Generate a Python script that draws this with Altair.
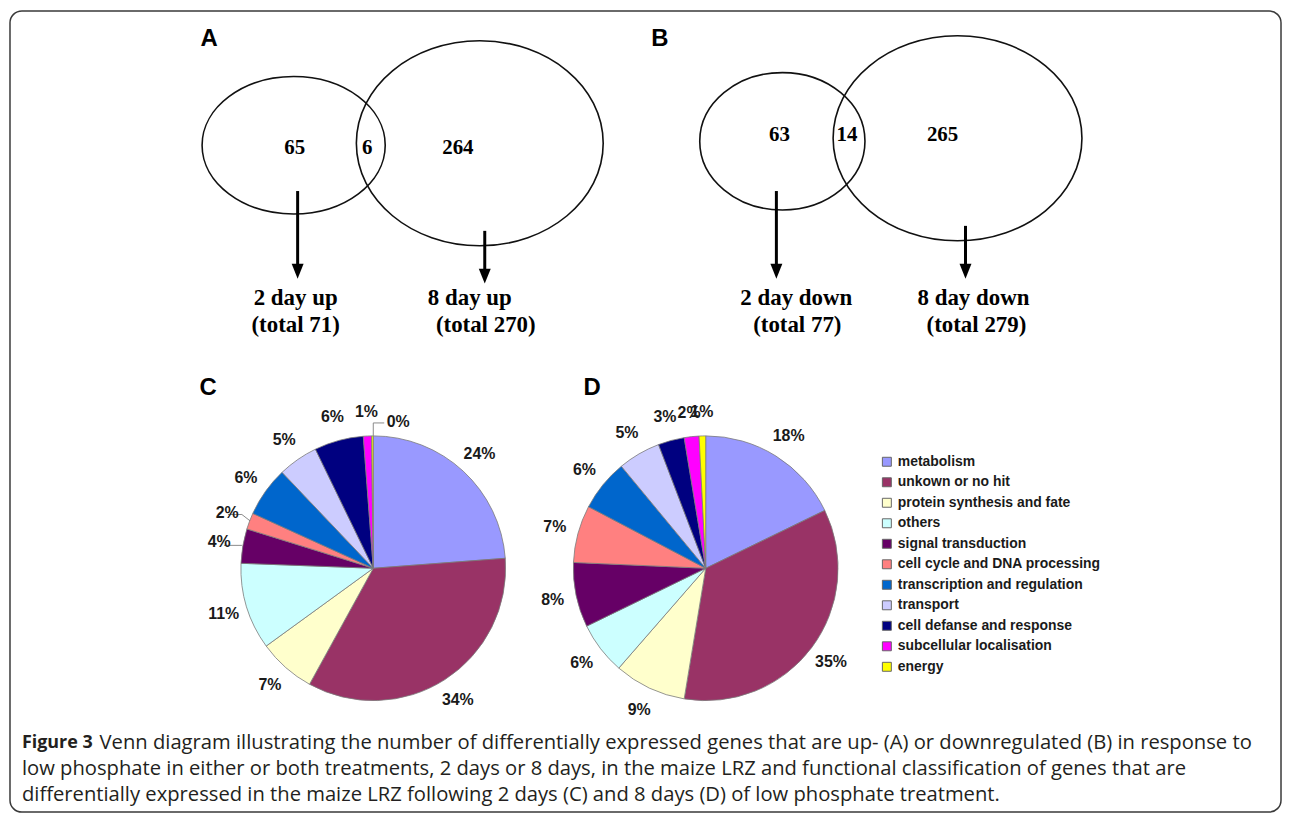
import altair as alt
import pandas as pd

# ---------------- data ----------------
categories = ["metabolism", "unkown or no hit", "protein synthesis and fate", "others",
              "signal transduction", "cell cycle and DNA processing",
              "transcription and regulation", "transport", "cell defanse and response",
              "subcellular localisation", "energy"]
colors = ["#9999FF", "#993366", "#FFFFCC", "#CCFFFF", "#660066", "#FF8080",
          "#0066CC", "#CCCCFF", "#000080", "#FF00FF", "#FFFF00"]
share_c = [23.8, 34.2, 7.0, 10.6, 4.2, 2.0, 6.1, 4.9, 6.0, 1.0, 0.2]
labels_c = ["24%", "34%", "7%", "11%", "4%", "2%", "6%", "5%", "6%", "1%", "0%"]
share_d = [17.8, 34.8, 8.8, 6.4, 7.9, 7.0, 6.3, 5.2, 3.2, 1.8, 0.8]
labels_d = ["18%", "35%", "9%", "6%", "8%", "7%", "6%", "5%", "3%", "2%", "1%"]

venn_panels = ["A", "B"]
venn_direction = ["up", "down"]
only_2day = [65, 63]
both_days = [6, 14]
only_8day = [264, 265]
total_2day = [71, 77]
total_8day = [270, 279]

pie_panels = ["C", "D"]

caption_head = "Figure 3"
caption_lines = [
    "Venn diagram illustrating the number of differentially expressed genes that are up- (A) or downregulated (B) in response to",
    "low phosphate in either or both treatments, 2 days or 8 days, in the maize LRZ and functional classification of genes that are",
    "differentially expressed in the maize LRZ following 2 days (C) and 8 days (D) of low phosphate treatment.",
]

# ---------------- layout (page pixel coordinates) ----------------
W, H = 1280, 807
X0, Y0 = 8, 8
xs = alt.Scale(domain=[X0, X0 + W], nice=False, zero=False)
ys = alt.Scale(domain=[Y0, Y0 + H], nice=False, zero=False, reverse=True)
ts = alt.Scale(domain=[0, 100])

SANS = "Liberation Sans"
SERIF = "Liberation Serif"
CAP = "Open Sans"

venn_layout = {
    "A": dict(letter=(210, 37), left=(295, 144, 92, 69), right=(482, 142, 124, 103),
              nums=[(296, 147), (369, 147), (460, 147)],
              arrows=[(299, 190, 278), (487, 230, 283)],
              labs=[(297, 297), (297, 325), (472, 297), (488, 325)]),
    "B": dict(letter=(663, 37), left=(786, 140, 83, 69), right=(962, 137, 125, 103),
              nums=[(783, 134), (851, 134), (947, 134)],
              arrows=[(780, 190, 278), (970, 225, 278)],
              labs=[(800, 297), (801, 325), (978, 297), (981, 325)]),
}
pie_layout = {"C": dict(letter=(209, 388), center=(375, 569)),
              "D": dict(letter=(595, 388), center=(709, 569))}
R_PIE = 133
R_LAB = 157
# leader-line annotations of panel C (x1, y1, x2, y2)
leaders_c = [(229, 515, 243, 515), (243, 515, 252, 522),
             (225, 546, 243, 546),
             (375, 423, 375, 436), (375, 423, 386, 423)]

one = pd.DataFrame({"k": [0]})


def X(v):
    return alt.X(datum=v, scale=xs, axis=None)


def Y(v):
    return alt.Y(datum=v, scale=ys, axis=None)


def ellipse_path(e):
    k = 0.5523
    return (f"M 1 0 C 1 {k*e:.4f} {k:.4f} {e:.4f} 0 {e:.4f} "
            f"C {-k:.4f} {e:.4f} -1 {k*e:.4f} -1 0 "
            f"C -1 {-k*e:.4f} {-k:.4f} {-e:.4f} 0 {-e:.4f} "
            f"C {k:.4f} {-e:.4f} 1 {-k*e:.4f} 1 0 Z")


layers = []

# frame
layers.append(
    alt.Chart(one).mark_rect(fillOpacity=0, stroke="#3a3a3a", strokeWidth=1.5, cornerRadius=12)
    .encode(x=X(10), x2=alt.X2(datum=1287), y=Y(9), y2=alt.Y2(datum=814))
)

# ---------------- Venn diagrams ----------------
venn_text_rows = []
label_rows = []
for i, p in enumerate(venn_panels):
    L = venn_layout[p]
    for (cx, cy, rx, ry) in (L["left"], L["right"]):
        layers.append(
            alt.Chart(one).mark_point(shape=ellipse_path(ry / rx), size=(2 * rx) ** 2,
                                      filled=False, stroke="#111", strokeWidth=1.6, opacity=1)
            .encode(x=X(cx), y=Y(cy))
        )
    for (ax, y1, y2) in L["arrows"]:
        layers.append(
            alt.Chart(one).mark_rule(color="#000", strokeWidth=3)
            .encode(x=X(ax), y=Y(y1), y2=alt.Y2(datum=y2 - 12))
        )
        layers.append(
            alt.Chart(one).mark_point(shape="M -0.8 -1 L 0.8 -1 L 0 1 Z", size=225, filled=True,
                                      color="#000", opacity=1)
            .encode(x=X(ax), y=Y(y2 - 7.5))
        )
    nums = [only_2day[i], both_days[i], only_8day[i]]
    for (nx, ny), n in zip(L["nums"], nums):
        venn_text_rows.append({"x": nx, "y": ny, "t": str(n), "lab": 0})
    texts = [f"2 day {venn_direction[i]}", f"(total {total_2day[i]})",
             f"8 day {venn_direction[i]}", f"(total {total_8day[i]})"]
    for (lx, ly), t in zip(L["labs"], texts):
        venn_text_rows.append({"x": lx, "y": ly, "t": t, "lab": 1})
    label_rows.append({"x": L["letter"][0], "y": L["letter"][1], "t": p})

for p in pie_panels:
    Lp = pie_layout[p]
    label_rows.append({"x": Lp["letter"][0], "y": Lp["letter"][1], "t": p})

vdf = pd.DataFrame(venn_text_rows)
num_df = vdf[vdf["lab"] == 0][["x", "y", "t"]]
lab_df = vdf[vdf["lab"] == 1][["x", "y", "t"]]

layers.append(
    alt.Chart(num_df).mark_text(font=SERIF, fontWeight="bold", fontSize=21, color="#000",
                                baseline="middle", align="center")
    .encode(x=alt.X("x:Q", scale=xs, axis=None), y=alt.Y("y:Q", scale=ys, axis=None), text="t:N")
)
layers.append(
    alt.Chart(lab_df).mark_text(font=SERIF, fontWeight="bold", fontSize=23, color="#000",
                                baseline="middle", align="center")
    .encode(x=alt.X("x:Q", scale=xs, axis=None), y=alt.Y("y:Q", scale=ys, axis=None), text="t:N")
)
layers.append(
    alt.Chart(pd.DataFrame(label_rows)).mark_text(font=SANS, fontWeight="bold", fontSize=24,
                                                  color="#000", baseline="middle", align="center")
    .encode(x=alt.X("x:Q", scale=xs, axis=None), y=alt.Y("y:Q", scale=ys, axis=None), text="t:N")
)

# ---------------- pies ----------------
legend = alt.Legend(title=None, orient="none", legendX=876, legendY=447, symbolType="square",
                    symbolSize=81, symbolStrokeColor="#666", symbolStrokeWidth=1,
                    symbolOpacity=1, labelFont=SANS, labelFontSize=14, labelFontWeight="bold",
                    labelColor="#1a1a1a", rowPadding=6.6, labelOffset=4, padding=0,
                    labelLimit=400)

lead_df = pd.DataFrame(leaders_c, columns=["x1", "y1", "x2", "y2"])
layers.append(
    alt.Chart(lead_df).mark_rule(color="#8a8a8a", strokeWidth=1)
    .encode(x=alt.X("x1:Q", scale=xs, axis=None), x2="x2:Q",
            y=alt.Y("y1:Q", scale=ys, axis=None), y2="y2:Q")
)

for p, shares, labels in (("C", share_c, labels_c), ("D", share_d, labels_d)):
    cx, cy = pie_layout[p]["center"]
    main_lab = list(labels)
    extra_lab = [""] * len(labels)
    if p == "C":
        main_lab[-1] = ""
        extra_lab[-1] = labels[-1]
    df = pd.DataFrame({"category": categories, "share": shares, "label": main_lab,
                       "extra": extra_lab, "idx": list(range(len(categories)))})
    base = alt.Chart(df).encode(
        theta=alt.Theta("share:Q", stack=True, scale=ts),
        order=alt.Order("idx:Q"),
        x=X(cx), y=Y(cy),
    )
    layers.append(
        base.mark_arc(outerRadius=R_PIE, stroke="#7a7a7a", strokeWidth=0.8)
        .encode(color=alt.Color("category:N", scale=alt.Scale(domain=categories, range=colors),
                                legend=legend if p == "C" else None))
    )
    layers.append(
        base.mark_text(radius=R_LAB, font=SANS, fontWeight="bold", fontSize=16, color="#1a1a1a")
        .encode(text="label:N")
    )
    if p == "C":
        layers.append(
            base.mark_text(radius=R_LAB, font=SANS, fontWeight="bold", fontSize=16,
                           color="#1a1a1a", dx=26, dy=10)
            .encode(text="extra:N")
        )

# ---------------- caption ----------------
cap_y = [745, 771, 797]
layers.append(
    alt.Chart(one).mark_text(text=caption_head, font=CAP, fontWeight="bold", fontSize=18,
                             color="#231f20", align="left", baseline="middle")
    .encode(x=X(22), y=Y(cap_y[0]))
)
cap_df = pd.DataFrame({"t": caption_lines})
cap_df["x"] = [100, 22, 22]
cap_df["y"] = cap_y
layers.append(
    alt.Chart(cap_df).mark_text(font=CAP, fontSize=20.3, color="#231f20", align="left",
                                baseline="middle")
    .encode(x=alt.X("x:Q", scale=xs, axis=None), y=alt.Y("y:Q", scale=ys, axis=None), text="t:N")
)

chart = (
    alt.layer(*layers)
    .properties(width=W, height=H, padding=0, autosize=alt.AutoSizeParams(type="none"),
                background="white")
    .configure_view(stroke=None)
)

chart.save("out.html", embed_options={"renderer": "svg", "actions": False})
